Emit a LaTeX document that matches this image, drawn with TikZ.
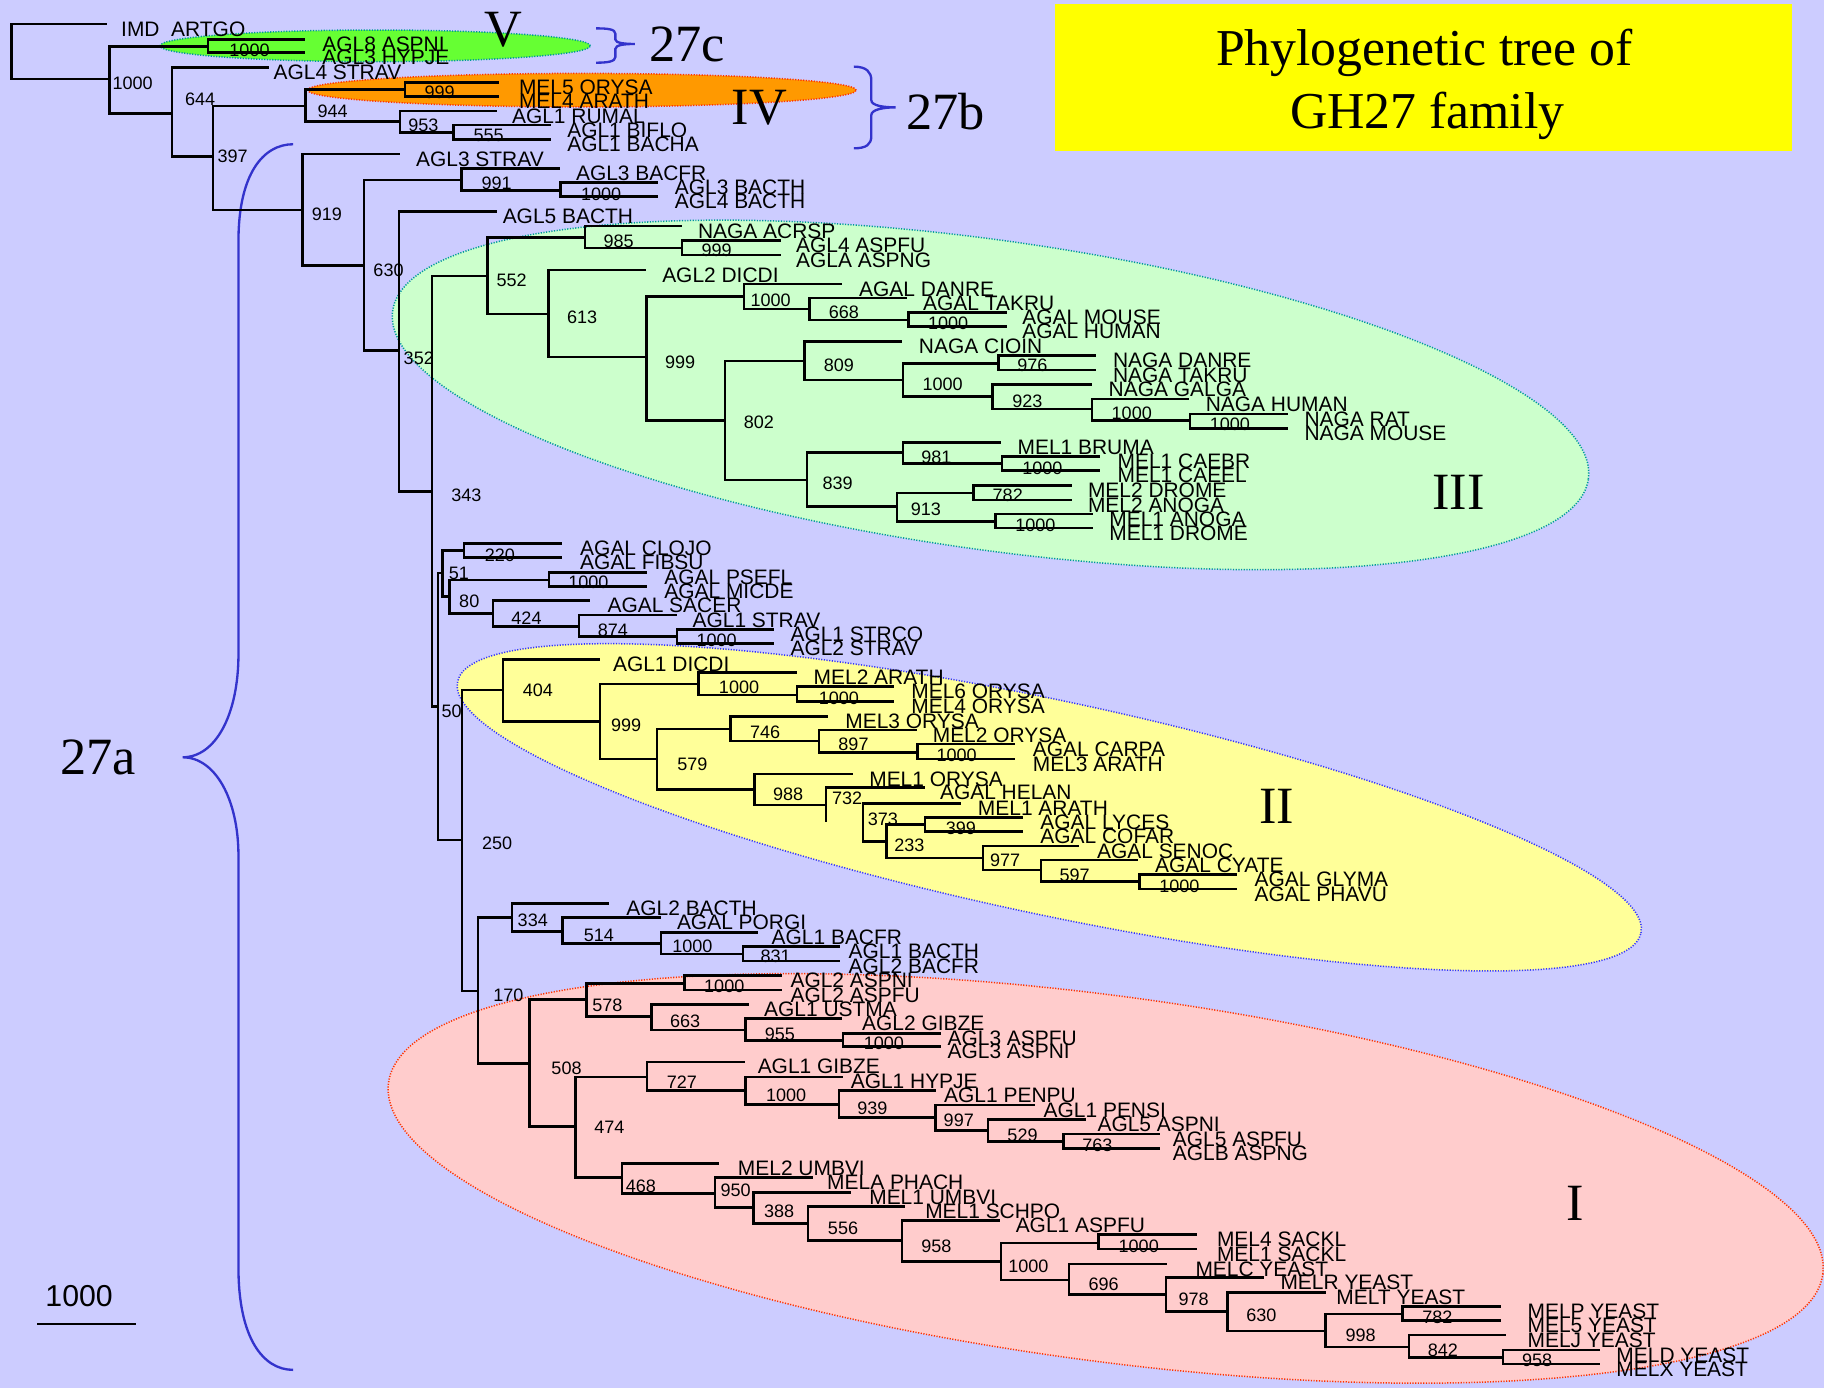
\documentclass[tikz,border=0pt]{standalone}
\usepackage{fontspec}
\setmainfont{Liberation Serif}
\setsansfont{Liberation Sans}
\definecolor{bgblue}{HTML}{CCCCFF}
\definecolor{grIII}{HTML}{CCFFCC}
\definecolor{yeII}{HTML}{FFFF99}
\definecolor{piI}{HTML}{FFCCCC}
\definecolor{grV}{HTML}{66FF33}
\definecolor{orIV}{HTML}{FF9900}
\definecolor{titlebox}{HTML}{FFFF00}
\definecolor{braceblue}{HTML}{3333CC}
\definecolor{tealdot}{HTML}{009999}
\definecolor{bluedot}{HTML}{3333FF}
\definecolor{reddot}{HTML}{FF3300}
% leaf: name, end x, y, label x, text
\newcommand{\lf}[5]{\coordinate (#1) at (#2,#3);
  \node[leaflab] (#1-t) at (#4,#3+10.5) {#5};}
% inner node: name, x, y, value x, value y, value
\newcommand{\bn}[6]{\coordinate (#1) at (#2,#3);
  \node[bs] (#1-b) at (#4,#5) {#6};}
% branches from a parent to its children
\newcommand{\kids}[2]{\foreach \k in {#2} {\draw[branch] (#1) |- (\k);}}
\begin{document}
\begin{tikzpicture}[x=1pt,y=-1pt,
  branch/.style={line width=2.1pt, line join=miter},
  leaflab/.style={anchor=base west, inner sep=0pt, font=\sffamily\fontsize{18}{18}\selectfont},
  bs/.style={anchor=center, inner sep=0pt, font=\sffamily\fontsize{15.5}{15.5}\selectfont},
  big/.style={anchor=base, inner sep=0pt, font=\rmfamily\fontsize{45}{45}\selectfont},
  brace/.style={draw=braceblue, line width=2pt},
  clade/.style={line width=1.3pt, dash pattern=on 1pt off 1.3pt}]
\useasboundingbox (0,0) rectangle (1568,1193);
\fill[bgblue] (0,0) rectangle (1568,1193);

% clade ellipses
\filldraw[clade, fill=grIII, draw=tealdot, rotate around={-8:(851.5,339.5)}]
  (851.5,339.5) ellipse [x radius=519pt, y radius=133pt];
\filldraw[clade, fill=yeII, draw=bluedot, rotate around={-12:(902,694)}]
  (902,694) ellipse [x radius=520pt, y radius=92pt];
\filldraw[clade, fill=piI, draw=reddot, rotate around={-7.6:(950.5,1013)}]
  (950.5,1013) ellipse [x radius=622pt, y radius=157pt];
\filldraw[clade, fill=grV, draw=tealdot] (322.5,39.4) ellipse [x radius=185pt, y radius=13.6pt];
\filldraw[clade, fill=orIV, draw=reddot] (500.3,77.5) ellipse [x radius=235.7pt, y radius=14.4pt];

% title
\node[fill=titlebox, anchor=north west, inner sep=0pt, minimum width=634pt, minimum height=126.6pt] (title) at (906.5,2.9) {};
\node[anchor=base, inner sep=0pt, font=\rmfamily\fontsize{44.5}{44.5}\selectfont] (title-a) at (1224.5,55.9) {Phylogenetic tree of};
\node[anchor=base, inner sep=0pt, font=\rmfamily\fontsize{44.5}{44.5}\selectfont] (title-b) at (1227,110.3) {GH27 family};

% braces and group names
\draw[brace] (252,124) .. controls (226,124) and (205,150) .. (205,207) -- (205,562)
  .. controls (205,615) and (185,651) .. (157,651) .. controls (185,651) and (205,687) .. (205,736)
  -- (205,1090) .. controls (205,1150) and (226,1177.6) .. (252,1177.6);
\draw[brace] (734,57.3) .. controls (745,57.3) and (749,62) .. (749,69) -- (749,86)
  .. controls (749,91) and (760,92.3) .. (769.8,92.3) .. controls (760,92.3) and (749,94) .. (749,99)
  -- (749,117) .. controls (749,124) and (745,127.5) .. (734,127.5);
\draw[brace] (512.5,24.4) .. controls (522,24.4) and (529,25) .. (529,29) -- (529,34)
  .. controls (529,37) and (537,37.8) .. (545.8,37.8) .. controls (537,37.8) and (529,38.6) .. (529,42)
  -- (529,49) .. controls (529,53) and (522,53.9) .. (512.5,53.9);
\node[big] (g27a) at (84.5,666) {27a};
\node[big] (g27b) at (812.9,111.7) {27b};
\node[big] (g27c) at (590.6,53) {27c};
\node[big] (gV) at (433,40) {V};
\node[big] (gIV) at (652.7,107.4) {IV};
\node[big] (gIII) at (1253.8,437.8) {III};
\node[big] (gII) at (1097.6,707.8) {II};
\node[big] (gI) at (1353.7,1048.8) {I};

% scale bar
\coordinate (sb-a) at (32,1138);
\coordinate (sb-b) at (116.6,1138);
\draw[line width=2pt] (sb-a) -- (sb-b);
\node[anchor=base, inner sep=0pt, font=\sffamily\fontsize{26}{26}\selectfont] (sb-t) at (68,1123.4) {1000};

% ---- tree: basal part ----
\coordinate (r) at (10,44);
\lf{imd}{92}{20.6}{104}{IMD\ \ ARTGO}
\bn{n1}{94}{68}{114}{72}{1000}
\bn{c5}{179}{40}{214.5}{43}{1000}
\lf{agl8aspni}{262.5}{33.8}{277}{AGL8 ASPNI}
\lf{agl3hypje}{262.5}{45.3}{277}{AGL3 HYPJE}
\bn{n2}{148}{97.4}{172}{85}{644}
\lf{agl4strav}{231}{58}{235}{AGL4 STRAV}
\bn{n3}{183}{134.7}{200}{134.7}{397}
\bn{n4}{262.5}{91}{286}{95.4}{944}
\bn{c4}{348}{76.8}{378}{79.7}{999}
\lf{mel5orysa}{429}{70.8}{446}{MEL5 ORYSA}
\lf{mel4arath}{429}{83.1}{446}{MEL4 ARATH}
\bn{n5}{344}{104.6}{364}{108}{953}
\lf{agl1rumal}{427}{95.4}{440}{AGL1 RUMAL}
\bn{n6}{390}{114}{420}{116.6}{555}
\lf{agl1biflo}{474}{107.4}{487.5}{AGL1 BIFLO}
\lf{agl1bacha}{474}{119.8}{487.5}{AGL1 BACHA}
\bn{n7}{260}{180.5}{281}{184}{919}
\lf{agl3strav}{344}{132.4}{357.5}{AGL3 STRAV}
\bn{n8}{313}{228.4}{334}{232}{630}
\bn{n991}{396.7}{154.7}{427}{157.6}{991}
\lf{agl3bacfr}{481.3}{144.7}{495}{AGL3 BACFR}
\bn{n1000a}{482}{163.9}{516.7}{166.8}{1000}
\lf{agl3bacth}{565.4}{157}{580}{AGL3 BACTH}
\lf{agl4bacth}{565.4}{169}{580}{AGL4 BACTH}
\bn{n9}{343}{301.4}{360}{308.3}{352}
\lf{agl5bacth}{427}{181.9}{432}{AGL5 BACTH}
\bn{n10}{371.6}{422.6}{401}{425.6}{343}

% ---- group III ----
\bn{n552}{419}{237.2}{439.9}{241.2}{552}
\bn{n985}{502.9}{204}{531.8}{207.7}{985}
\lf{nagaacrsp}{586.5}{194.2}{599.9}{NAGA ACRSP}
\bn{n999d}{586.5}{213.4}{616.1}{215.5}{999}
\lf{agl4aspfu}{671.5}{206.9}{684.2}{AGL4 ASPFU}
\lf{aglaaspng}{671.5}{219.2}{684.2}{AGLA ASPNG}
\bn{n613}{471.4}{269.9}{500.4}{273}{613}
\lf{agl2dicdi}{555.3}{232.1}{569.1}{AGL2 DICDI}
\bn{n999b}{555.7}{307.1}{584.7}{311.7}{999}
\bn{n1000b}{639.6}{255}{662.5}{258.4}{1000}
\lf{agaldanre}{723.6}{244.1}{738.4}{AGAL DANRE}
\bn{n668}{695.7}{265.6}{725.4}{268.7}{668}
\lf{agaltakru}{780}{256.4}{793.4}{AGAL TAKRU}
\bn{n1000c}{780.8}{275}{815.1}{277.9}{1000}
\lf{agalmouse}{865.4}{268.5}{878.6}{AGAL MOUSE}
\lf{agalhuman}{865.4}{280.8}{878.6}{AGAL HUMAN}
\bn{n802}{623.4}{361.6}{652.3}{363.3}{802}
\bn{n809}{691.4}{310.3}{721.1}{314.3}{809}
\lf{nagacioin}{775.3}{293.7}{789.8}{NAGA CIOIN}
\bn{n1000d}{776.4}{326.6}{810.4}{330.4}{1000}
\bn{n976}{858.4}{312.3}{887.5}{314.3}{976}
\lf{nagadanre}{942.2}{305.7}{956.6}{NAGA DANRE}
\lf{nagatakru}{942.2}{318}{956.6}{NAGA TAKRU}
\bn{n923}{853.1}{341}{883.2}{345.3}{923}
\lf{nagagalga}{938.5}{330.4}{952.9}{NAGA GALGA}
\bn{n1000e}{938.5}{351.8}{972.9}{355.3}{1000}
\lf{nagahuman}{1022}{343.2}{1036.4}{NAGA HUMAN}
\bn{n1000f}{1022.9}{361.6}{1057.3}{364.5}{1000}
\lf{nagarat}{1107}{355.8}{1121.2}{NAGA RAT}
\lf{nagamouse}{1107}{368.2}{1121.2}{NAGA MOUSE}
\bn{n839}{693.9}{412.6}{720}{415.5}{839}
\bn{n981}{776.4}{389.1}{805}{393.1}{981}
\lf{mel1bruma}{860.8}{380.5}{874.6}{MEL1 BRUMA}
\bn{n1000g}{861.4}{398.3}{896.1}{402.6}{1000}
\lf{mel1caebr}{945.3}{392.5}{960.6}{MEL1 CAEBR}
\lf{mel1caeel}{945.3}{404.6}{960.6}{MEL1 CAEEL}
\bn{n913}{771}{435.5}{796}{437.8}{913}
\bn{n782}{836.8}{424}{866.3}{425.5}{782}
\lf{mel2drome}{921.3}{417.5}{935.1}{MEL2 DROME}
\lf{mel2anoga}{921.3}{429.8}{935.1}{MEL2 ANOGA}
\bn{n1000h}{855.6}{448.4}{890}{451.3}{1000}
\lf{mel1anoga}{939.7}{441.8}{953.5}{MEL1 ANOGA}
\lf{mel1drome}{939.7}{454.1}{953.5}{MEL1 DROME}

% ---- middle clades ----
\bn{n12}{376.3}{607.5}{388.2}{611.8}{50}
\bn{n51}{380.2}{492.8}{394.4}{492.8}{51}
\bn{n220}{399.1}{473.1}{429.8}{477.1}{220}
\lf{agalclojo}{483}{467.1}{498.6}{AGAL CLOJO}
\lf{agalfibsu}{483}{479.1}{498.6}{AGAL FIBSU}
\bn{n80}{386.4}{512.9}{403.4}{516.6}{80}
\bn{n1000i}{472.1}{498.6}{505.8}{500.6}{1000}
\lf{agalpsefl}{556.4}{492}{570.9}{AGAL PSEFL}
\lf{agalmicde}{556.4}{504.3}{570.9}{AGAL MICDE}
\bn{n424}{423.7}{527.2}{452.6}{531.5}{424}
\lf{agalsacer}{506.9}{516.3}{522.1}{AGAL SACER}
\bn{n874}{497.5}{538.7}{526.8}{541.6}{874}
\lf{agl1strav}{581.8}{528.7}{595.2}{AGL1 STRAV}
\bn{n1000j}{581.8}{547.3}{616.1}{550.2}{1000}
\lf{agl1strco}{665.7}{541}{679.4}{AGL1 STRCO}
\lf{agl2strav}{665.7}{553}{679.4}{AGL2 STRAV}

% ---- group II ----
\bn{n13}{397.2}{722.1}{427.3}{725}{250}
\bn{n404}{432.3}{593.1}{462.4}{593.1}{404}
\lf{agl1dicdi}{515.9}{566.8}{526.8}{AGL1 DICDI}
\bn{n999c}{515.6}{620.4}{538.3}{623.2}{999}
\bn{n1000k}{600.6}{588}{635.3}{590.8}{1000}
\lf{mel2arath}{684.9}{578.2}{699.3}{MEL2 ARATH}
\bn{n1000l}{684.9}{597.4}{721.1}{600.3}{1000}
\lf{mel6orysa}{768.8}{590.3}{783.3}{MEL6 ORYSA}
\lf{mel4orysa}{768.8}{603.2}{783.3}{MEL4 ORYSA}
\bn{n579}{564.8}{652.7}{595.2}{656.7}{579}
\bn{n746}{628.1}{626.7}{657.7}{629.8}{746}
\lf{mel3orysa}{712}{616.1}{726.5}{MEL3 ORYSA}
\bn{n897}{704}{637}{733.7}{639.8}{897}
\lf{mel2orysa}{788}{627.5}{801.7}{MEL2 ORYSA}
\bn{n1000m}{788.7}{647}{822.4}{649.6}{1000}
\lf{agalcarpa}{872.3}{639.8}{887.7}{AGAL CARPA}
\lf{mel3arath}{872.3}{652.7}{887.7}{MEL3 ARATH}
\bn{n988}{648.7}{678.5}{677.6}{682.5}{988}
\lf{mel1orysa}{733}{665.6}{747.1}{MEL1 ORYSA}
\bn{n732}{710.2}{692}{728.3}{686.3}{732}
\lf{agalhelan}{795.2}{677.1}{807.9}{AGAL HELAN}
\bn{n373}{742}{706.3}{759}{704.3}{373}
\lf{mel1arath}{826}{690.6}{840.5}{MEL1 ARATH}
\bn{n233}{762}{723.5}{781.8}{726.4}{233}
\bn{n399}{795.2}{708.6}{826}{712.1}{399}
\lf{agallyces}{879.6}{702.6}{894.2}{AGAL LYCES}
\lf{agalcofar}{879.6}{714.9}{894.2}{AGAL COFAR}
\bn{n977}{844.8}{737.8}{864}{739.8}{977}
\lf{agalsenoc}{927.6}{727.2}{942.9}{AGAL SENOC}
\bn{n597}{895}{747.9}{923.8}{752.2}{597}
\lf{agalcyate}{978.6}{739.3}{992.8}{AGAL CYATE}
\bn{n1000n}{979.4}{757.9}{1013.9}{762.2}{1000}
\lf{agalglyma}{1063.8}{751.6}{1078.4}{AGAL GLYMA}
\lf{agalphavu}{1063.8}{764.2}{1078.4}{AGAL PHAVU}

% ---- bacterial clade and group I ----
\bn{n170}{411}{851.9}{437.1}{855.4}{170}
\bn{n334}{439.9}{788.6}{458}{791.5}{334}
\lf{agl2bacth}{523.9}{776.6}{538.3}{AGL2 BACTH}
\bn{n514}{483.4}{800.9}{514.8}{804.4}{514}
\lf{agalporgi}{568}{788.9}{581.8}{AGAL PORGI}
\bn{n1000o}{568.4}{811}{595.2}{813.2}{1000}
\lf{agl1bacfr}{651.2}{801.5}{663.2}{AGL1 BACFR}
\bn{n831}{638.6}{820.1}{666.8}{821.8}{831}
\lf{agl1bacth}{722.2}{813.8}{729.4}{AGL1 BACTH}
\lf{agl2bacfr}{722.2}{826.1}{729.4}{AGL2 BACFR}
\bn{n508}{455.1}{914.1}{487}{918.4}{508}
\bn{n578}{504}{859.1}{522.1}{864}{578}
\bn{n1000p}{588.3}{845.3}{622.6}{848.2}{1000}
\lf{agl2aspni}{672.2}{838.7}{679.4}{AGL2 ASPNI}
\lf{agl2aspfu}{672.2}{851}{679.4}{AGL2 ASPFU}
\bn{n663}{560.1}{874}{589}{878.3}{663}
\lf{agl1ustma}{644}{863.4}{656.7}{AGL1 USTMA}
\bn{n955}{640.7}{885.4}{670.4}{889.2}{955}
\lf{agl2gibze}{724}{875.4}{741}{AGL2 GIBZE}
\bn{n1000q}{724.7}{894.6}{759.8}{896.9}{1000}
\lf{agl3aspfu}{809}{888.3}{814.4}{AGL3 ASPFU}
\lf{agl3aspni}{809}{899.8}{814.4}{AGL3 ASPNI}
\bn{n474}{494.9}{968.5}{523.9}{969.4}{474}
\bn{n727}{556.4}{925.6}{586.1}{929.9}{727}
\lf{agl1gibze}{640.4}{912.7}{651.2}{AGL1 GIBZE}
\bn{n1000r}{640.7}{937.6}{675.8}{941.3}{1000}
\lf{agl1hypje}{724.7}{925.6}{731.2}{AGL1 HYPJE}
\bn{n939}{721.1}{949.3}{750}{952.8}{939}
\lf{agl1penpu}{804.3}{937.6}{811.5}{AGL1 PENPU}
\bn{n997}{804.3}{960.8}{824.2}{962.8}{997}
\lf{agl1pensi}{889.3}{949.9}{897}{AGL1 PENSI}
\bn{n529}{849.4}{972}{879}{975.7}{529}
\lf{agl5aspni}{933.6}{962.2}{943.3}{AGL5 ASPNI}
\bn{n763}{914.1}{981.4}{943.3}{984.3}{763}
\lf{agl5aspfu}{997.4}{974.8}{1008.1}{AGL5 ASPFU}
\lf{aglbaspng}{997.4}{987.2}{1008.1}{AGLB ASPNG}
\bn{n468}{534.7}{1012.4}{551}{1020.1}{468}
\lf{mel2umbvi}{618.3}{1000.1}{634.2}{MEL2 UMBVI}
\bn{n950}{614.7}{1025.8}{632.4}{1023.6}{950}
\lf{melaphach}{698.6}{1012.1}{710.9}{MELA PHACH}
\bn{n388}{647.6}{1038.2}{669.7}{1041.6}{388}
\lf{mel1umbvi}{731.2}{1025}{747.1}{MEL1 UMBVI}
\bn{n556}{694.7}{1051.6}{724.7}{1055.9}{556}
\lf{mel1schpo}{778.2}{1037.3}{795.2}{MEL1 SCHPO}
\bn{n958}{775.3}{1066.5}{805}{1071.1}{958}
\lf{agl1aspfu}{859.3}{1049.3}{873}{AGL1 ASPFU}
\bn{n1000s}{860.3}{1084.6}{884}{1088.3}{1000}
\bn{n1000t}{944.2}{1068.3}{978.9}{1071.7}{1000}
\lf{mel4sackl}{1028.9}{1061.1}{1046}{MEL4 SACKL}
\lf{mel1sackl}{1028.9}{1073.7}{1046}{MEL1 SACKL}
\bn{n696}{918.8}{1100.3}{948.8}{1103.8}{696}
\lf{melcyeast}{1003}{1086.6}{1027.5}{MELC YEAST}
\bn{n978}{1002.1}{1112.7}{1026.1}{1117}{978}
\lf{melryeast}{1086.3}{1098.3}{1100.6}{MELR YEAST}
\bn{n630b}{1055.3}{1127.6}{1084.4}{1131}{630}
\lf{meltyeast}{1139.5}{1111.2}{1148.7}{MELT YEAST}
\bn{n998}{1139.5}{1144.2}{1169.6}{1148.2}{998}
\bn{n782b}{1205.7}{1129.6}{1235.7}{1132.7}{782}
\lf{melpyeast}{1289.9}{1123.3}{1313}{MELP YEAST}
\lf{mel5yeast}{1289.9}{1135.3}{1313}{MEL5 YEAST}
\bn{n842}{1211.2}{1157.7}{1240.4}{1160.5}{842}
\lf{meljyeast}{1294.5}{1147.6}{1313}{MELJ YEAST}
\bn{n958b}{1292.2}{1167.1}{1321.3}{1169.1}{958}
\lf{meldyeast}{1375.5}{1160.5}{1389.4}{MELD YEAST}
\lf{melxyeast}{1375.5}{1172.5}{1389.4}{MELX YEAST}

% ---- branches ----
\kids{r}{imd,n1}
\kids{n1}{c5,n2}
\kids{c5}{agl8aspni,agl3hypje}
\kids{n2}{agl4strav,n3}
\kids{n3}{n4,n7}
\kids{n4}{c4,n5}
\kids{c4}{mel5orysa,mel4arath}
\kids{n5}{agl1rumal,n6}
\kids{n6}{agl1biflo,agl1bacha}
\kids{n7}{agl3strav,n8}
\kids{n8}{n991,n9}
\kids{n991}{agl3bacfr,n1000a}
\kids{n1000a}{agl3bacth,agl4bacth}
\kids{n9}{agl5bacth,n10}
\kids{n10}{n552,n12}
\kids{n552}{n985,n613}
\kids{n985}{nagaacrsp,n999d}
\kids{n999d}{agl4aspfu,aglaaspng}
\kids{n613}{agl2dicdi,n999b}
\kids{n999b}{n1000b,n802}
\kids{n1000b}{agaldanre,n668}
\kids{n668}{agaltakru,n1000c}
\kids{n1000c}{agalmouse,agalhuman}
\kids{n802}{n809,n839}
\kids{n809}{nagacioin,n1000d}
\kids{n1000d}{n976,n923}
\kids{n976}{nagadanre,nagatakru}
\kids{n923}{nagagalga,n1000e}
\kids{n1000e}{nagahuman,n1000f}
\kids{n1000f}{nagarat,nagamouse}
\kids{n839}{n981,n913}
\kids{n981}{mel1bruma,n1000g}
\kids{n1000g}{mel1caebr,mel1caeel}
\kids{n913}{n782,n1000h}
\kids{n782}{mel2drome,mel2anoga}
\kids{n1000h}{mel1anoga,mel1drome}
\kids{n12}{n51,n13}
\kids{n51}{n220,n80}
\kids{n220}{agalclojo,agalfibsu}
\kids{n80}{n1000i,n424}
\kids{n1000i}{agalpsefl,agalmicde}
\kids{n424}{agalsacer,n874}
\kids{n874}{agl1strav,n1000j}
\kids{n1000j}{agl1strco,agl2strav}
\kids{n13}{n404,n170}
\kids{n404}{agl1dicdi,n999c}
\kids{n999c}{n1000k,n579}
\kids{n1000k}{mel2arath,n1000l}
\kids{n1000l}{mel6orysa,mel4orysa}
\kids{n579}{n746,n988}
\kids{n746}{mel3orysa,n897}
\kids{n897}{mel2orysa,n1000m}
\kids{n1000m}{agalcarpa,mel3arath}
\kids{n988}{mel1orysa,n732}
\kids{n732}{agalhelan}
% the branch towards node 373 is printed as a bare vertical stub
\draw[branch] (n732) -- (n732 |- n373);
\kids{n373}{mel1arath,n233}
\kids{n233}{n399,n977}
\kids{n399}{agallyces,agalcofar}
\kids{n977}{agalsenoc,n597}
\kids{n597}{agalcyate,n1000n}
\kids{n1000n}{agalglyma,agalphavu}
\kids{n170}{n334,n508}
\kids{n334}{agl2bacth,n514}
\kids{n514}{agalporgi,n1000o}
\kids{n1000o}{agl1bacfr,n831}
\kids{n831}{agl1bacth,agl2bacfr}
\kids{n508}{n578,n474}
\kids{n578}{n1000p,n663}
\kids{n1000p}{agl2aspni,agl2aspfu}
\kids{n663}{agl1ustma,n955}
\kids{n955}{agl2gibze,n1000q}
\kids{n1000q}{agl3aspfu,agl3aspni}
\kids{n474}{n727,n468}
\kids{n727}{agl1gibze,n1000r}
\kids{n1000r}{agl1hypje,n939}
\kids{n939}{agl1penpu,n997}
\kids{n997}{agl1pensi,n529}
\kids{n529}{agl5aspni,n763}
\kids{n763}{agl5aspfu,aglbaspng}
\kids{n468}{mel2umbvi,n950}
\kids{n950}{melaphach,n388}
\kids{n388}{mel1umbvi,n556}
\kids{n556}{mel1schpo,n958}
\kids{n958}{agl1aspfu,n1000s}
\kids{n1000s}{n1000t,n696}
\kids{n1000t}{mel4sackl,mel1sackl}
\kids{n696}{melcyeast,n978}
\kids{n978}{melryeast,n630b}
\kids{n630b}{meltyeast,n998}
\kids{n998}{n782b,n842}
\kids{n782b}{melpyeast,mel5yeast}
\kids{n842}{meljyeast,n958b}
\kids{n958b}{meldyeast,melxyeast}
\end{tikzpicture}
\end{document}
